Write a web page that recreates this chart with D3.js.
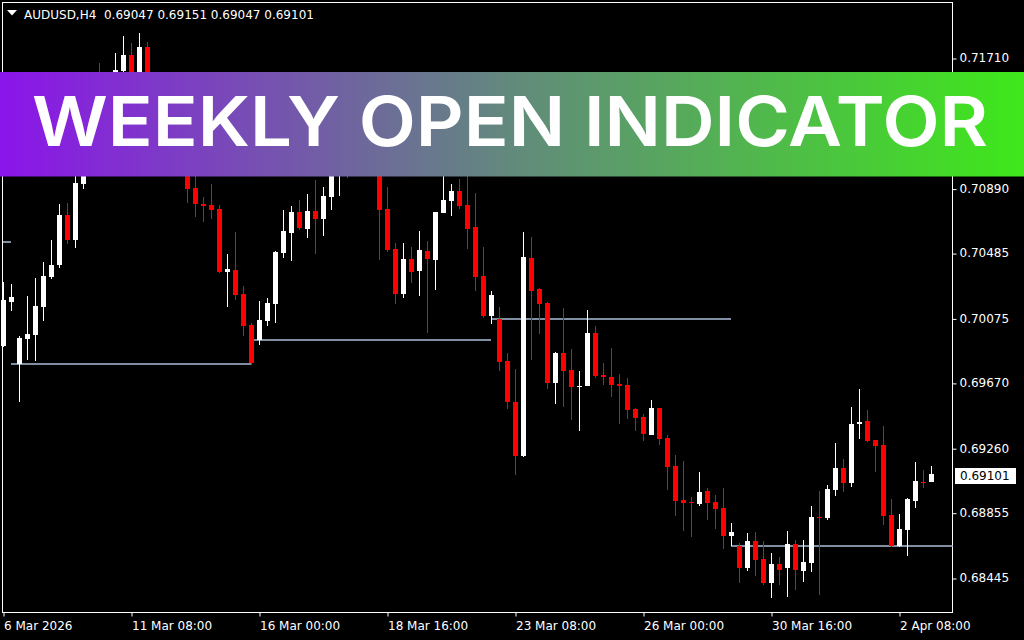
<!DOCTYPE html>
<html>
<head>
<meta charset="utf-8">
<script src="https://cdn.jsdelivr.net/npm/d3@7"></script>
<style>
  body { margin: 0; background: #000; }
  svg { display: block; }
  text { font-family: "DejaVu Sans", sans-serif; font-size: 12px; fill: #fff; }
</style>
</head>
<body>
<script>
// AUDUSD H4 bars, 6 Mar 2026 16:00 .. 3 Apr 2026 00:00
let open = [
  0.69902, 0.70180, 0.69790, 0.69946, 0.69971, 0.70148, 0.70335, 0.70410, 0.70724, 0.70567,
  0.70919, 0.71070, 0.71415, 0.71333, 0.71471, 0.71628, 0.71729, 0.71509, 0.71779, 0.71446,
  0.71289, 0.71384, 0.71132, 0.71019, 0.70894, 0.70793, 0.70787, 0.70762, 0.70366, 0.70379,
  0.70228, 0.70033, 0.69939, 0.70059, 0.70165, 0.70486, 0.70611, 0.70743, 0.70636, 0.70749,
  0.70699, 0.70837, 0.71032, 0.71195, 0.71132, 0.71245, 0.71164, 0.71070, 0.70762, 0.70511,
  0.70228, 0.70448, 0.70373, 0.70498, 0.70442, 0.70737, 0.70812, 0.70875, 0.70787, 0.70649,
  0.70341, 0.70090, 0.70071, 0.69808, 0.69550, 0.69211, 0.70454, 0.70260, 0.70172, 0.69669,
  0.69858, 0.69751, 0.69644, 0.69650, 0.69983, 0.69720, 0.69707, 0.69663, 0.69657, 0.69506,
  0.69456, 0.69343, 0.69512, 0.69324, 0.69148, 0.68935, 0.68922, 0.68910, 0.68991, 0.68922,
  0.68885, 0.68709, 0.68646, 0.68508, 0.68677, 0.68564, 0.68414, 0.68533, 0.68508, 0.68658,
  0.68489, 0.68539, 0.68828, 0.68822, 0.68998, 0.69136, 0.69041, 0.69412, 0.69431, 0.69312,
  0.69280, 0.68841, 0.68646, 0.68746, 0.68928, 0.69048, 0.69047
];
let high = [
  0.70304, 0.70291, 0.69964, 0.70216, 0.70329, 0.70429, 0.70567, 0.70793, 0.70800, 0.71019,
  0.71132, 0.71459, 0.71681, 0.71572, 0.71741, 0.71848, 0.71804, 0.71867, 0.71810, 0.71497,
  0.71446, 0.71415, 0.71195, 0.71070, 0.70994, 0.70837, 0.70919, 0.70787, 0.70479, 0.70618,
  0.70278, 0.70046, 0.70184, 0.70203, 0.70498, 0.70756, 0.70781, 0.70818, 0.70856, 0.70944,
  0.70900, 0.71132, 0.71271, 0.71289, 0.71321, 0.71333, 0.71227, 0.71132, 0.70900, 0.70548,
  0.70548, 0.70523, 0.70624, 0.70561, 0.70743, 0.71038, 0.70919, 0.70950, 0.71070, 0.70862,
  0.70523, 0.70247, 0.70147, 0.69858, 0.69757, 0.70618, 0.70586, 0.70266, 0.70178, 0.69864,
  0.70140, 0.69883, 0.69745, 0.70128, 0.70027, 0.69795, 0.69889, 0.69726, 0.69701, 0.69512,
  0.69475, 0.69563, 0.69512, 0.69343, 0.69217, 0.69180, 0.68954, 0.69111, 0.69010, 0.68966,
  0.69010, 0.68790, 0.68665, 0.68728, 0.68734, 0.68677, 0.68602, 0.68577, 0.68740, 0.68684,
  0.68684, 0.68897, 0.68991, 0.69029, 0.69293, 0.69192, 0.69519, 0.69632, 0.69500, 0.69312,
  0.69399, 0.68941, 0.68847, 0.68947, 0.69173, 0.69123, 0.69151
];
let low = [
  0.69895, 0.70123, 0.69552, 0.69814, 0.69808, 0.70059, 0.70322, 0.70391, 0.70542, 0.70517,
  0.70888, 0.71038, 0.71258, 0.71289, 0.71446, 0.71585, 0.71478, 0.71478, 0.71384, 0.71227,
  0.71245, 0.71082, 0.70975, 0.70801, 0.70714, 0.70680, 0.70699, 0.70360, 0.70147, 0.70190,
  0.69964, 0.69782, 0.69908, 0.70027, 0.70046, 0.70454, 0.70435, 0.70630, 0.70580, 0.70479,
  0.70592, 0.70756, 0.70844, 0.70957, 0.71070, 0.71038, 0.71007, 0.70442, 0.70492, 0.70165,
  0.70203, 0.70297, 0.70216, 0.69983, 0.70253, 0.70737, 0.70718, 0.70762, 0.70511, 0.70247,
  0.70077, 0.70040, 0.69745, 0.69506, 0.69092, 0.69205, 0.69814, 0.69977, 0.69632, 0.69537,
  0.69519, 0.69437, 0.69368, 0.69650, 0.69701, 0.69657, 0.69581, 0.69412, 0.69443, 0.69368,
  0.69305, 0.69343, 0.69280, 0.68998, 0.68834, 0.68740, 0.68702, 0.68897, 0.68809, 0.68753,
  0.68627, 0.68646, 0.68414, 0.68489, 0.68458, 0.68401, 0.68319, 0.68401, 0.68326, 0.68370,
  0.68420, 0.68483, 0.68338, 0.68809, 0.68960, 0.68985, 0.69016, 0.69318, 0.69299, 0.69111,
  0.68778, 0.68642, 0.68642, 0.68583, 0.68885, 0.69010, 0.69047
];
let close = [
  0.70190, 0.70209, 0.69954, 0.69977, 0.70153, 0.70341, 0.70410, 0.70724, 0.70567, 0.70925,
  0.71070, 0.71415, 0.71333, 0.71471, 0.71635, 0.71729, 0.71509, 0.71779, 0.71446, 0.71289,
  0.71384, 0.71132, 0.71019, 0.70888, 0.70793, 0.70781, 0.70756, 0.70366, 0.70385, 0.70222,
  0.70027, 0.69795, 0.70065, 0.70172, 0.70492, 0.70624, 0.70743, 0.70643, 0.70749, 0.70699,
  0.70844, 0.71038, 0.71195, 0.71132, 0.71245, 0.71164, 0.71070, 0.70756, 0.70504, 0.70228,
  0.70448, 0.70366, 0.70504, 0.70448, 0.70743, 0.70818, 0.70875, 0.70781, 0.70636, 0.70335,
  0.70090, 0.70222, 0.69801, 0.69550, 0.69211, 0.70460, 0.70247, 0.70165, 0.69669, 0.69858,
  0.69745, 0.69644, 0.69650, 0.69983, 0.69713, 0.69707, 0.69657, 0.69650, 0.69500, 0.69450,
  0.69349, 0.69512, 0.69318, 0.69142, 0.68928, 0.68916, 0.68916, 0.68985, 0.68916, 0.68878,
  0.68709, 0.68734, 0.68508, 0.68677, 0.68558, 0.68414, 0.68533, 0.68495, 0.68658, 0.68495,
  0.68545, 0.68828, 0.68825, 0.69004, 0.69136, 0.69041, 0.69412, 0.69424, 0.69305, 0.69274,
  0.68834, 0.68646, 0.68753, 0.68941, 0.69054, 0.69043, 0.69101
];

// week starts (bar index of monday 00:00) and the open of the week before the first one
let weekStarts = [2, 32, 62, 92];
let prevWeekOpen = 0.70555;

// axis labels
let priceTicks = [0.71710, 0.71300, 0.70890, 0.70485, 0.70075, 0.69670, 0.69260, 0.68855, 0.68445];
let timeTickBars = [0, 16, 32, 48, 64, 80, 96, 112];
let timeTickLabels = ["6 Mar 2026", "11 Mar 08:00", "16 Mar 00:00", "18 Mar 16:00",
                      "23 Mar 08:00", "26 Mar 00:00", "30 Mar 16:00", "2 Apr 08:00"];

let width = 1024, height = 640;
let plotRight = 952.5, plotBottom = 612.5;

let x = d3.scaleLinear().domain([0, 116]).range([3, 931]);
let y = d3.scaleLinear().domain([0.68445, 0.71710]).range([578, 58]);
let fmt = d3.format(".5f");

let svg = d3.select("body").append("svg")
  .attr("width", width)
  .attr("height", height);

svg.append("rect").attr("width", width).attr("height", height).attr("fill", "#000");

// chart frame
svg.append("rect")
  .attr("x", 2.5).attr("y", 2.5)
  .attr("width", plotRight - 2.5).attr("height", plotBottom - 2.5)
  .attr("fill", "none").attr("stroke", "#fff");

// weekly open lines
let lineColor = "#8090a2";
let segs = [{x1: 3, x2: x(weekStarts[0] - 1), v: prevWeekOpen}];
weekStarts.forEach((s, k) => {
  let end = k < weekStarts.length - 1 ? x(weekStarts[k + 1] - 1) : plotRight;
  segs.push({x1: x(s - 1), x2: end, v: open[s]});
});
svg.selectAll("line.wk")
  .data(segs)
  .enter()
  .append("line")
  .attr("class", "wk")
  .attr("x1", d => d.x1).attr("x2", d => d.x2)
  .attr("y1", d => Math.round(y(d.v))).attr("y2", d => Math.round(y(d.v)))
  .attr("stroke", lineColor)
  .attr("stroke-width", 2);

// candles
let bars = d3.range(open.length);
let col = i => close[i] >= open[i] ? "#ffffff" : "#ff0000";

let g = svg.append("g").attr("shape-rendering", "crispEdges");
g.selectAll("rect.wick")
  .data(bars)
  .enter()
  .append("rect")
  .attr("x", i => Math.round(x(i)))
  .attr("width", 1)
  .attr("y", i => Math.round(y(high[i])))
  .attr("height", i => Math.max(1, Math.round(y(low[i])) - Math.round(y(high[i]))))
  .attr("fill", col);

g.selectAll("rect.body")
  .data(bars)
  .enter()
  .append("rect")
  .attr("x", i => Math.round(x(i)) - 2)
  .attr("width", 5)
  .attr("y", i => Math.round(y(Math.max(open[i], close[i]))))
  .attr("height", i => Math.max(1, Math.round(y(Math.min(open[i], close[i]))) - Math.round(y(Math.max(open[i], close[i])))))
  .attr("fill", col);

// price axis on the right
let yAxis = d3.axisRight(y)
  .tickValues(priceTicks)
  .tickSize(4)
  .tickFormat(fmt);
let ya = svg.append("g").attr("transform", `translate(${plotRight},0)`).call(yAxis);
ya.select(".domain").remove();
ya.selectAll("line").attr("stroke", "#fff").attr("transform", "translate(0,0.5)");
ya.selectAll("text").attr("x", 7).attr("fill", "#fff").style("font-size", "12px").style("font-family", "DejaVu Sans");

// time axis
let xAxis = d3.axisBottom(x)
  .tickValues(timeTickBars)
  .tickSize(4)
  .tickFormat((d, i) => timeTickLabels[i]);
let xa = svg.append("g").attr("transform", `translate(0.5,${plotBottom})`).call(xAxis);
xa.select(".domain").remove();
xa.selectAll("line").attr("stroke", "#fff");
xa.selectAll("text")
  .attr("text-anchor", "start")
  .attr("x", 0)
  .attr("y", 9)
  .attr("fill", "#fff")
  .style("font-size", "12px").style("font-family", "DejaVu Sans");

// last price tag
let last = close[close.length - 1];
let ly = Math.round(y(last));
svg.append("rect")
  .attr("x", 955).attr("y", ly - 6)
  .attr("width", 61).attr("height", 16)
  .attr("fill", "#fff");
svg.append("text")
  .attr("x", 960).attr("y", ly + 5.5)
  .style("fill", "#000")
  .text(fmt(last));

// header
svg.append("path")
  .attr("d", "M7,10 L17,10 L12,15.5 Z")
  .attr("fill", "#fff");
svg.append("text")
  .attr("x", 24).attr("y", 19)
  .attr("xml:space", "preserve")
  .text(`AUDUSD,H4  ${fmt(open[116])} ${fmt(high[116])} ${fmt(low[116])} ${fmt(last)}`);

// banner on top
let grad = svg.append("defs").append("linearGradient")
  .attr("id", "bannerGrad")
  .attr("x1", "0%").attr("x2", "100%");
grad.append("stop").attr("offset", "0%").attr("stop-color", "#8b14ea");
grad.append("stop").attr("offset", "50%").attr("stop-color", "#628a7c");
grad.append("stop").attr("offset", "100%").attr("stop-color", "#3ee81a");

svg.append("rect")
  .attr("x", 0).attr("y", 72)
  .attr("width", width).attr("height", 104.5)
  .attr("fill", "url(#bannerGrad)");

svg.append("text")
  .attr("x", 32).attr("y", 146)
  .attr("textLength", 956)
  .attr("lengthAdjust", "spacingAndGlyphs")
  .style("font-family", "Inter, 'Open Sans', sans-serif")
  .style("font-weight", 600)
  .style("font-size", "69px")
  .style("fill", "#fff")
  .text("WEEKLY OPEN INDICATOR");
</script>
</body>
</html>
